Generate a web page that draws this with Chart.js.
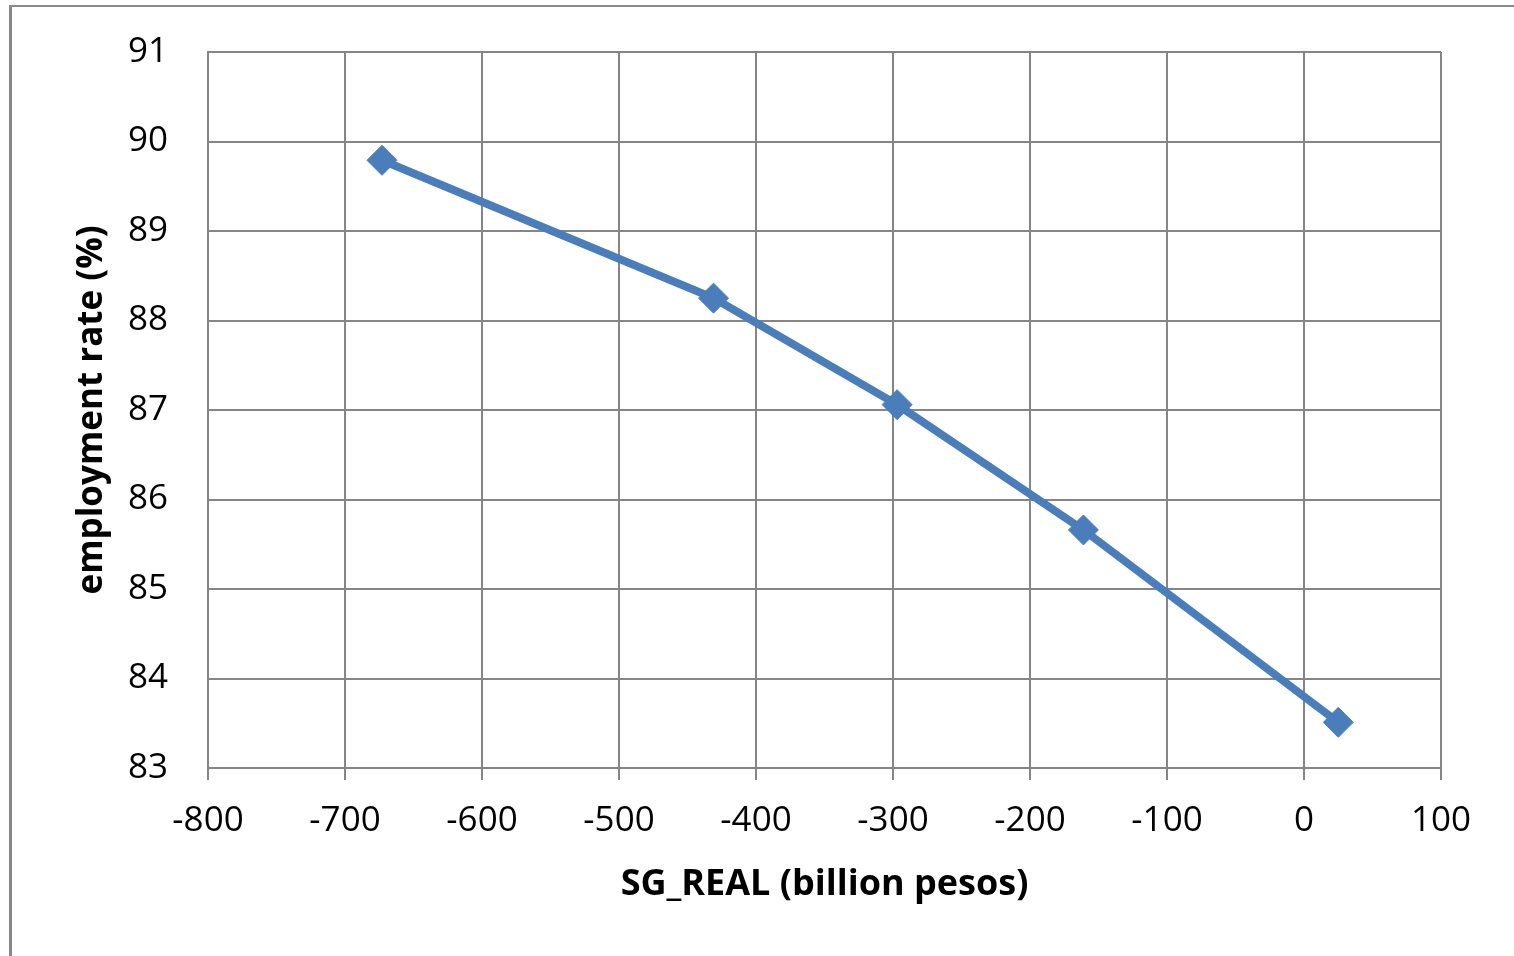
<!DOCTYPE html>
<html>
<head>
<meta charset="utf-8">
<script src="https://cdn.jsdelivr.net/npm/chart.js@4"></script>
<style>
  html, body { margin: 0; padding: 0; background: #fff; overflow: hidden; }
  #wrap { position: relative; width: 1514px; height: 956px; }
  #frame { position: absolute; left: 9px; top: 5px; width: 1520px; height: 1000px;
           border-top: 2px solid #898989; border-left: 3px solid #898989; }
  canvas { position: absolute; left: 0; top: 0; }
</style>
</head>
<body>
<div id="wrap">
  <div id="frame"></div>
  <canvas id="chart" width="1514" height="956"></canvas>
</div>
<script>
// SG_REAL vs employment rate
const sgReal = [-673, -431, -297, -161, 25];
const employmentRate = [89.79, 88.25, 87.06, 85.66, 83.51];

const xTicks = [-800, -700, -600, -500, -400, -300, -200, -100, 0, 100];
const yTicks = [83, 84, 85, 86, 87, 88, 89, 90, 91];

const gridGray = '#858585';
const lineBlue = '#4A7EBB';

const points = sgReal.map((x, i) => ({ x: x, y: employmentRate[i] }));

const ctx = document.getElementById('chart').getContext('2d');
const chart = new Chart(ctx, {
    type: 'scatter',
    data: {
        datasets: [
            {
                label: 'employment rate',
                data: points,
                showLine: true,
                borderColor: lineBlue,
                backgroundColor: lineBlue,
                borderWidth: 8,
                pointStyle: 'rectRot',
                pointRadius: 15,
                pointBorderWidth: 1,
                pointBorderColor: lineBlue,
                pointBackgroundColor: lineBlue,
                tension: 0
            }
        ]
    },
    options: {
        responsive: false,
        animation: false,
        layout: {
            padding: { left: 71, top: 52, right: 73, bottom: 50 }
        },
        plugins: {
            legend: { display: false },
            tooltip: { enabled: false }
        },
        scales: {
            x: {
                type: 'linear',
                min: -800,
                max: 100,
                afterBuildTicks: (axis) => { axis.ticks = xTicks.map(v => ({ value: v })); },
                afterFit: (axis) => {
                    axis.height = 956 - 50 - 768;
                    axis.paddingLeft = 0;
                    axis.paddingRight = 0;
                },
                grid: {
                    color: gridGray,
                    lineWidth: 2,
                    drawTicks: true,
                    tickLength: 12
                },
                border: { color: gridGray, width: 2 },
                ticks: {
                    color: '#000',
                    padding: 20,
                    font: { family: 'Open Sans', size: 35 }
                },
                title: {
                    display: true,
                    text: 'SG_REAL (billion pesos)',
                    color: '#000',
                    padding: 0,
                    font: { family: 'Open Sans', size: 36, weight: 'bold' }
                }
            },
            y: {
                type: 'linear',
                min: 83,
                max: 91,
                afterBuildTicks: (axis) => { axis.ticks = yTicks.map(v => ({ value: v })); },
                afterFit: (axis) => {
                    axis.width = 208 - 71;
                    axis.paddingTop = 0;
                    axis.paddingBottom = 0;
                },
                grid: {
                    color: gridGray,
                    lineWidth: 2,
                    drawTicks: false
                },
                border: { color: gridGray, width: 2 },
                ticks: {
                    color: '#000',
                    padding: 40,
                    font: { family: 'Open Sans', size: 35 }
                },
                title: {
                    display: true,
                    text: 'employment rate (%)',
                    color: '#000',
                    padding: 0,
                    font: { family: 'Open Sans', size: 35, weight: 'bold' }
                }
            }
        }
    }
});
</script>
</body>
</html>
